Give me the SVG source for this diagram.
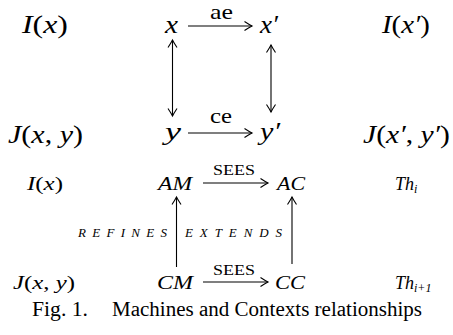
<svg xmlns="http://www.w3.org/2000/svg" width="453" height="335" viewBox="0 0 453 335">
<defs>
<style>
text{fill:#000}
.m{font-style:italic}
.big{font-size:26px}
.lbl{font-size:22px}
.sm{font-size:18px}
.sees{font-size:15px}
.tiny{font-size:13px;font-style:italic}
.sub{font-size:12px}
.cap{font-size:20px}
.c{fill:none;stroke:#000;stroke-width:1.1}
</style>
<marker id="h" viewBox="-10 -6 12 12" refX="0" refY="0" markerWidth="12" markerHeight="12" markerUnits="userSpaceOnUse" orient="auto-start-reverse">
<path d="M-7.5,-4.5 Q-2.5,-1.2 0,0 Q-2.5,1.2 -7.5,4.5" fill="none" stroke="#000" stroke-width="1.1"/>
</marker>
</defs>
<g font-family="Liberation Serif, serif">
<g id="connectors">
<path class="c" d="M188,26 H252" marker-end="url(#h)"/>
<path class="c" d="M188,133 H252" marker-end="url(#h)"/>
<path class="c" d="M172.5,40 V116" marker-start="url(#h)" marker-end="url(#h)"/>
<path class="c" d="M271,45 V112" marker-start="url(#h)" marker-end="url(#h)"/>
<path class="c" d="M203,183 H268" marker-end="url(#h)"/>
<path class="c" d="M203,282 H268" marker-end="url(#h)"/>
<path class="c" d="M176.5,267 V197" marker-end="url(#h)"/>
<path class="c" d="M292,264 V197" marker-end="url(#h)"/>
<text class="lbl" x="210" y="19" textLength="23" lengthAdjust="spacingAndGlyphs">ae</text>
<text class="lbl" x="210" y="123" textLength="22" lengthAdjust="spacingAndGlyphs">ce</text>
<text class="sees" x="213" y="175" textLength="42" lengthAdjust="spacingAndGlyphs">SEES</text>
<text class="sees" x="213" y="275" textLength="42" lengthAdjust="spacingAndGlyphs">SEES</text>
<text class="tiny" x="78" y="237" textLength="89">REFINES</text>
<text class="tiny" x="185" y="237" textLength="97">EXTENDS</text>
</g>
<g id="n-Ix"><text class="big" x="22" y="33" textLength="46" lengthAdjust="spacingAndGlyphs"><tspan class="m">I</tspan>(<tspan class="m">x</tspan>)</text></g>
<g id="n-x"><text class="big m" x="165" y="33" textLength="13" lengthAdjust="spacingAndGlyphs">x</text></g>
<g id="n-xp"><text class="big m" x="260" y="33" textLength="18" lengthAdjust="spacingAndGlyphs">x′</text></g>
<g id="n-Ixp"><text class="big" x="382" y="33" textLength="48" lengthAdjust="spacingAndGlyphs"><tspan class="m">I</tspan>(<tspan class="m">x′</tspan>)</text></g>
<g id="n-Jxy"><text class="big" x="8" y="143" textLength="75" lengthAdjust="spacingAndGlyphs"><tspan class="m">J</tspan>(<tspan class="m">x</tspan>, <tspan class="m">y</tspan>)</text></g>
<g id="n-y"><text class="big m" x="165" y="140" textLength="16" lengthAdjust="spacingAndGlyphs">y</text></g>
<g id="n-yp"><text class="big m" x="260" y="140" textLength="20" lengthAdjust="spacingAndGlyphs">y′</text></g>
<g id="n-Jxpyp"><text class="big" x="363" y="143" textLength="87" lengthAdjust="spacingAndGlyphs"><tspan class="m">J</tspan>(<tspan class="m">x′</tspan>, <tspan class="m">y′</tspan>)</text></g>
<g id="n-Ix2"><text class="sm" x="27" y="190" textLength="36" lengthAdjust="spacingAndGlyphs"><tspan class="m">I</tspan>(<tspan class="m">x</tspan>)</text></g>
<g id="n-AM"><text class="sm m" x="158" y="190" textLength="34" lengthAdjust="spacingAndGlyphs">AM</text></g>
<g id="n-AC"><text class="sm m" x="277" y="190" textLength="28" lengthAdjust="spacingAndGlyphs">AC</text></g>
<g id="n-Thi"><text class="sm m" x="395" y="190">Th<tspan class="sub" dy="3">i</tspan></text></g>
<g id="n-Jxy2"><text class="sm" x="13" y="289" textLength="62" lengthAdjust="spacingAndGlyphs"><tspan class="m">J</tspan>(<tspan class="m">x</tspan>, <tspan class="m">y</tspan>)</text></g>
<g id="n-CM"><text class="sm m" x="157" y="289" textLength="36" lengthAdjust="spacingAndGlyphs">CM</text></g>
<g id="n-CC"><text class="sm m" x="275" y="289" textLength="30" lengthAdjust="spacingAndGlyphs">CC</text></g>
<g id="n-Thi1"><text class="sm m" x="395" y="289">Th<tspan class="sub" dy="3">i+1</tspan></text></g>
<g id="caption">
<text class="cap" x="32" y="316" textLength="56" lengthAdjust="spacingAndGlyphs">Fig. 1.</text>
<text class="cap" x="112" y="316" textLength="310" lengthAdjust="spacingAndGlyphs">Machines and Contexts relationships</text>
</g>
</g>
</svg>
